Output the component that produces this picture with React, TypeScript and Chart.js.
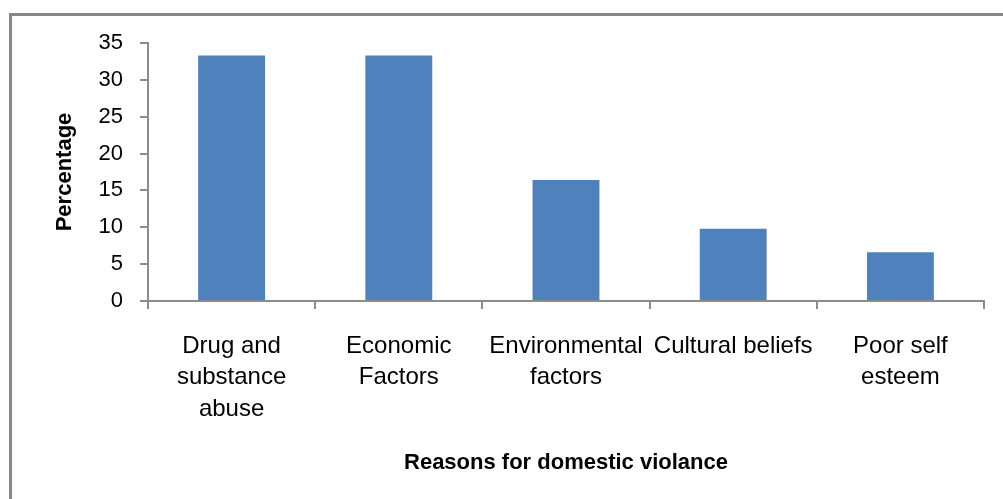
import React, { useEffect, useRef } from "react";
import { Chart, registerables } from "chart.js";

Chart.register(...registerables);

const categories: string[][] = [
  ["Drug and", "substance", "abuse"],
  ["Economic", "Factors"],
  ["Environmental", "factors"],
  ["Cultural beliefs"],
  ["Poor self", "esteem"],
];
const percentages: number[] = [33.3, 33.3, 16.4, 9.8, 6.6];
const yTicks: number[] = [0, 5, 10, 15, 20, 25, 30, 35];

const AXIS = "#8c8c8c";
const FONT = "'Liberation Sans', Arial, sans-serif";

export default function App() {
  const ref = useRef<HTMLCanvasElement | null>(null);

  useEffect(() => {
    if (!ref.current) return;
    const chart = new Chart(ref.current, {
      type: "bar",
      data: {
        labels: categories,
        datasets: [
          {
            data: percentages,
            backgroundColor: "#4F81BD",
            borderWidth: 0,
            categoryPercentage: 1,
            barPercentage: 0.4,
          },
        ],
      },
      options: {
        responsive: false,
        animation: false,
        layout: { padding: { left: 10, top: 43, right: 19, bottom: 0 } },
        plugins: { legend: { display: false }, tooltip: { enabled: false } },
        scales: {
          x: {
            offset: true,
            grid: {
              offset: true,
              drawOnChartArea: false,
              drawTicks: true,
              tickLength: 8,
              color: AXIS,
              lineWidth: 2,
            },
            border: { display: true, color: AXIS, width: 2 },
            ticks: {
              color: "#000",
              font: { family: FONT, size: 24, lineHeight: 1.3 },
              maxRotation: 0,
              minRotation: 0,
              autoSkip: false,
              padding: 22,
            },
            title: {
              display: true,
              text: "Reasons for domestic violance",
              color: "#000",
              font: { family: FONT, size: 22, weight: "bold", lineHeight: 1.2 },
              padding: { top: 0, bottom: 23 },
            },
            afterFit: (s: any) => {
              s.height = 198;
            },
          },
          y: {
            min: 0,
            max: 35,
            afterBuildTicks: (s: any) => {
              s.ticks = yTicks.map((v) => ({ value: v }));
            },
            grid: {
              drawOnChartArea: false,
              drawTicks: true,
              tickLength: 8,
              color: AXIS,
              lineWidth: 2,
            },
            border: { display: true, color: AXIS, width: 2 },
            ticks: {
              color: "#000",
              font: { family: FONT, size: 22 },
              padding: 17,
            },
            title: {
              display: true,
              text: "Percentage",
              color: "#000",
              font: { family: FONT, size: 22, weight: "bold", lineHeight: 1.2 },
              padding: { top: 42, bottom: 0 },
            },
            afterFit: (s: any) => {
              s.width = 138;
            },
          },
        },
      },
    });
    return () => chart.destroy();
  }, []);

  return (
    <div
      style={{
        position: "fixed",
        left: 0,
        top: 0,
        width: 1003,
        height: 499,
        background: "#fff",
        overflow: "hidden",
      }}
    >
      <div
        style={{
          position: "absolute",
          left: 9,
          top: 13,
          right: -10,
          bottom: -10,
          borderTop: "3px solid #878787",
          borderLeft: "3px solid #878787",
        }}
      />
      <canvas
        ref={ref}
        width={1003}
        height={499}
        style={{ position: "absolute", left: 0, top: 0, width: 1003, height: 499 }}
      />
    </div>
  );
}
